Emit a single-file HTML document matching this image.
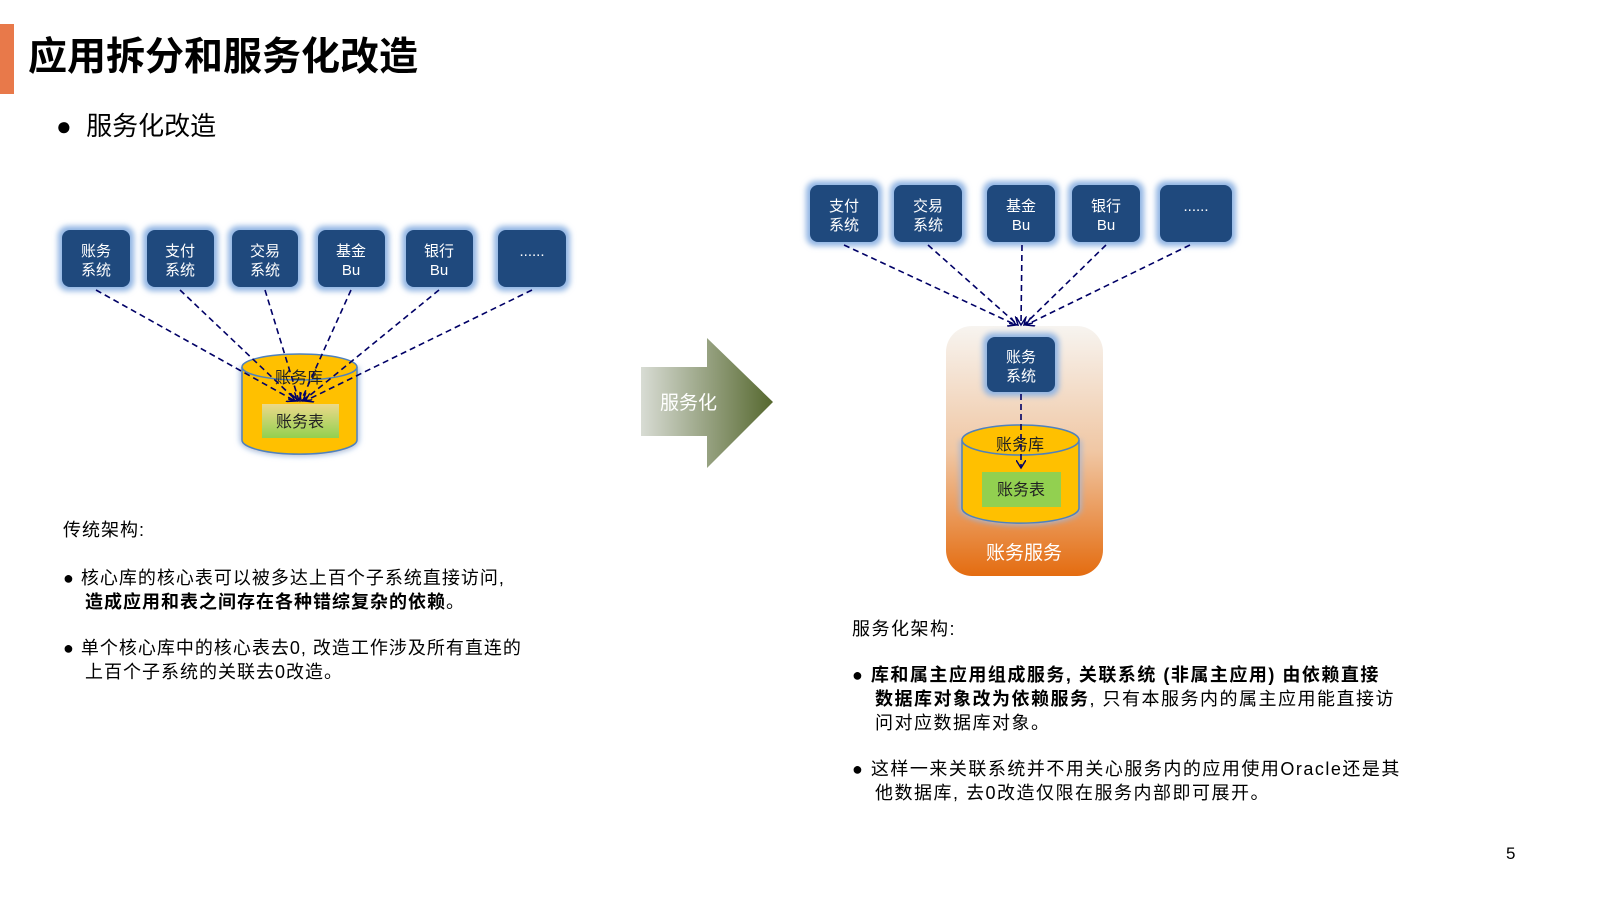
<!DOCTYPE html>
<html><head><meta charset="utf-8">
<style>
body{margin:0;width:1600px;height:900px;background:#fff;position:relative;overflow:hidden;font-family:"Liberation Sans","Noto Sans CJK SC",sans-serif;color:#000}
.a{position:absolute;white-space:nowrap}
.t{font-size:18px;letter-spacing:1px;line-height:24px}
.t2{font-size:18px;letter-spacing:1.5px;line-height:24px}
</style></head><body>
<div class="a" style="left:0;top:24px;width:14px;height:70px;background:#E8794A"></div>
<div class="a" style="left:28px;top:34px;font-size:39px;font-weight:bold;line-height:48px">应用拆分和服务化改造</div>
<div class="a" style="left:56px;top:110px;font-size:26px;line-height:32px">●&nbsp;&nbsp;服务化改造</div>

<svg class="a" style="left:0;top:0" width="1600" height="900">
<defs>
<filter id="g" x="-30%" y="-30%" width="160%" height="160%"><feGaussianBlur stdDeviation="3"/></filter>
<linearGradient id="ar" x1="0" y1="0" x2="1" y2="0"><stop offset="0" stop-color="#d8dcd4"/><stop offset="1" stop-color="#56682f"/></linearGradient>
<linearGradient id="ar2" x1="0" y1="0" x2="0" y2="1"><stop offset="0" stop-color="#a9b49a"/><stop offset="1" stop-color="#56682f"/></linearGradient>
<linearGradient id="or" x1="0" y1="0" x2="0" y2="1"><stop offset="0" stop-color="#f7f4f0"/><stop offset="0.5" stop-color="#f0c7a4"/><stop offset="1" stop-color="#e46c10"/></linearGradient>
<linearGradient id="gr" x1="0" y1="0" x2="0" y2="1"><stop offset="0" stop-color="#ecd98a"/><stop offset="1" stop-color="#92d050"/></linearGradient>
<marker id="m" markerWidth="10" markerHeight="10" refX="8" refY="5" orient="auto" markerUnits="userSpaceOnUse"><path d="M0,0 L8,5 L0,10" fill="none" stroke="#000066" stroke-width="1.5"/></marker>
</defs>
<g font-size="15" fill="#fff" text-anchor="middle">
<!-- left boxes -->
<g id="L">
<rect x="58" y="226" width="76" height="65" rx="10" fill="#8fb4e3" filter="url(#g)"/>
<rect x="62" y="230" width="68" height="57" rx="8" fill="#1f497d"/>
<rect x="143" y="226" width="75" height="65" rx="10" fill="#8fb4e3" filter="url(#g)"/>
<rect x="147" y="230" width="67" height="57" rx="8" fill="#1f497d"/>
<rect x="228" y="226" width="74" height="65" rx="10" fill="#8fb4e3" filter="url(#g)"/>
<rect x="232" y="230" width="66" height="57" rx="8" fill="#1f497d"/>
<rect x="314" y="226" width="75" height="65" rx="10" fill="#8fb4e3" filter="url(#g)"/>
<rect x="318" y="230" width="67" height="57" rx="8" fill="#1f497d"/>
<rect x="402" y="226" width="75" height="65" rx="10" fill="#8fb4e3" filter="url(#g)"/>
<rect x="406" y="230" width="67" height="57" rx="8" fill="#1f497d"/>
<rect x="494" y="226" width="76" height="65" rx="10" fill="#8fb4e3" filter="url(#g)"/>
<rect x="498" y="230" width="68" height="57" rx="8" fill="#1f497d"/>
</g>
<text x="96" y="256">账务</text><text x="96" y="275">系统</text>
<text x="180" y="256">支付</text><text x="180" y="275">系统</text>
<text x="265" y="256">交易</text><text x="265" y="275">系统</text>
<text x="351" y="256">基金</text><text x="351" y="275">Bu</text>
<text x="439" y="256">银行</text><text x="439" y="275">Bu</text>
<text x="532" y="256">......</text>
</g>
<!-- left cylinder -->
<path d="M242,367 V440 A57,14 0 0 0 357,440 V367" fill="#ffc000" stroke="#8fb4e3" stroke-width="4" filter="url(#g)"/>
<path d="M242,367 V440 A57,14 0 0 0 357,440 V367" fill="#ffc000" stroke="#4f81bd" stroke-width="1.5"/>
<ellipse cx="299.5" cy="367" rx="57.5" ry="13" fill="#ffc000" stroke="#4f81bd" stroke-width="1.5"/>
<text x="299" y="383" font-size="16" text-anchor="middle" fill="#222">账务库</text>
<rect x="262" y="404" width="77" height="34" fill="url(#gr)"/>
<text x="300" y="427" font-size="16" text-anchor="middle" fill="#222">账务表</text>
<g stroke="#000066" stroke-width="1.6" stroke-dasharray="6,4" fill="none" marker-end="url(#m)">
<line x1="96" y1="290" x2="295" y2="401"/>
<line x1="180" y1="290" x2="297" y2="401"/>
<line x1="265" y1="290" x2="299" y2="401"/>
<line x1="351" y1="290" x2="301" y2="401"/>
<line x1="439" y1="290" x2="303" y2="401"/>
<line x1="532" y1="290" x2="305" y2="401"/>
</g>
<!-- arrow -->
<path d="M641,367 H707 V338 L773,402 L707,468 V436 H641 Z" fill="url(#ar)"/>
<text x="660" y="409" font-size="19" fill="#fff">服务化</text>
<!-- right container -->
<rect x="946" y="326" width="157" height="250" rx="26" fill="url(#or)"/>
<text x="1024" y="559" font-size="19" fill="#fff" text-anchor="middle">账务服务</text>
<g font-size="15" fill="#fff" text-anchor="middle">
<rect x="806" y="181" width="76" height="65" rx="10" fill="#8fb4e3" filter="url(#g)"/>
<rect x="810" y="185" width="68" height="57" rx="8" fill="#1f497d"/>
<rect x="890" y="181" width="76" height="65" rx="10" fill="#8fb4e3" filter="url(#g)"/>
<rect x="894" y="185" width="68" height="57" rx="8" fill="#1f497d"/>
<rect x="983" y="181" width="76" height="65" rx="10" fill="#8fb4e3" filter="url(#g)"/>
<rect x="987" y="185" width="68" height="57" rx="8" fill="#1f497d"/>
<rect x="1068" y="181" width="76" height="65" rx="10" fill="#8fb4e3" filter="url(#g)"/>
<rect x="1072" y="185" width="68" height="57" rx="8" fill="#1f497d"/>
<rect x="1156" y="181" width="80" height="65" rx="10" fill="#8fb4e3" filter="url(#g)"/>
<rect x="1160" y="185" width="72" height="57" rx="8" fill="#1f497d"/>
<rect x="983" y="333" width="76" height="63" rx="10" fill="#8fb4e3" filter="url(#g)"/>
<rect x="987" y="337" width="68" height="55" rx="8" fill="#1f497d"/>
<text x="844" y="211">支付</text><text x="844" y="230">系统</text>
<text x="928" y="211">交易</text><text x="928" y="230">系统</text>
<text x="1021" y="211">基金</text><text x="1021" y="230">Bu</text>
<text x="1106" y="211">银行</text><text x="1106" y="230">Bu</text>
<text x="1196" y="211">......</text>
<text x="1021" y="362">账务</text><text x="1021" y="381">系统</text>
</g>
<path d="M962,440 V508 A58,15 0 0 0 1079,508 V440" fill="#ffc000" stroke="#8fb4e3" stroke-width="4" filter="url(#g)"/>
<path d="M962,440 V508 A58,15 0 0 0 1079,508 V440" fill="#ffc000" stroke="#4f81bd" stroke-width="1.5"/>
<ellipse cx="1020.5" cy="440" rx="58.5" ry="15" fill="#ffc000" stroke="#4f81bd" stroke-width="1.5"/>
<text x="1020" y="450" font-size="16" text-anchor="middle" fill="#222">账务库</text>
<rect x="982" y="472" width="79" height="35" fill="#92d050"/>
<text x="1021" y="495" font-size="16" text-anchor="middle" fill="#222">账务表</text>
<g stroke="#000066" stroke-width="1.6" stroke-dasharray="6,4" fill="none" marker-end="url(#m)">
<line x1="844" y1="245" x2="1016" y2="325"/>
<line x1="928" y1="245" x2="1018" y2="325"/>
<line x1="1022" y1="245" x2="1021" y2="325"/>
<line x1="1106" y1="245" x2="1024" y2="325"/>
<line x1="1190" y1="245" x2="1026" y2="325"/>
<line x1="1021" y1="394" x2="1021" y2="468"/>
</g>
</svg>

<div class="a t" style="left:63px;top:518px">传统架构:</div>
<div class="a t" style="left:63px;top:566px">● 核心库的核心表可以被多达上百个子系统直接访问,<br><b style="margin-left:22px">造成应用和表之间存在各种错综复杂的依赖</b>。</div>
<div class="a t" style="left:63px;top:636px">● 单个核心库中的核心表去0, 改造工作涉及所有直连的<br><span style="margin-left:22px">上百个子系统的关联去0改造。</span></div>

<div class="a t2" style="left:852px;top:617px">服务化架构:</div>
<div class="a t2" style="left:852px;top:663px">● <b>库和属主应用组成服务, 关联系统 (非属主应用) 由依赖直接</b><br><span style="margin-left:23px"><b>数据库对象改为依赖服务</b>, 只有本服务内的属主应用能直接访</span><br><span style="margin-left:23px">问对应数据库对象。</span></div>
<div class="a t2" style="left:852px;top:757px">● 这样一来关联系统并不用关心服务内的应用使用Oracle还是其<br><span style="margin-left:23px">他数据库, 去0改造仅限在服务内部即可展开。</span></div>

<div class="a" style="left:1506px;top:844px;font-size:17px">5</div>
</body></html>
